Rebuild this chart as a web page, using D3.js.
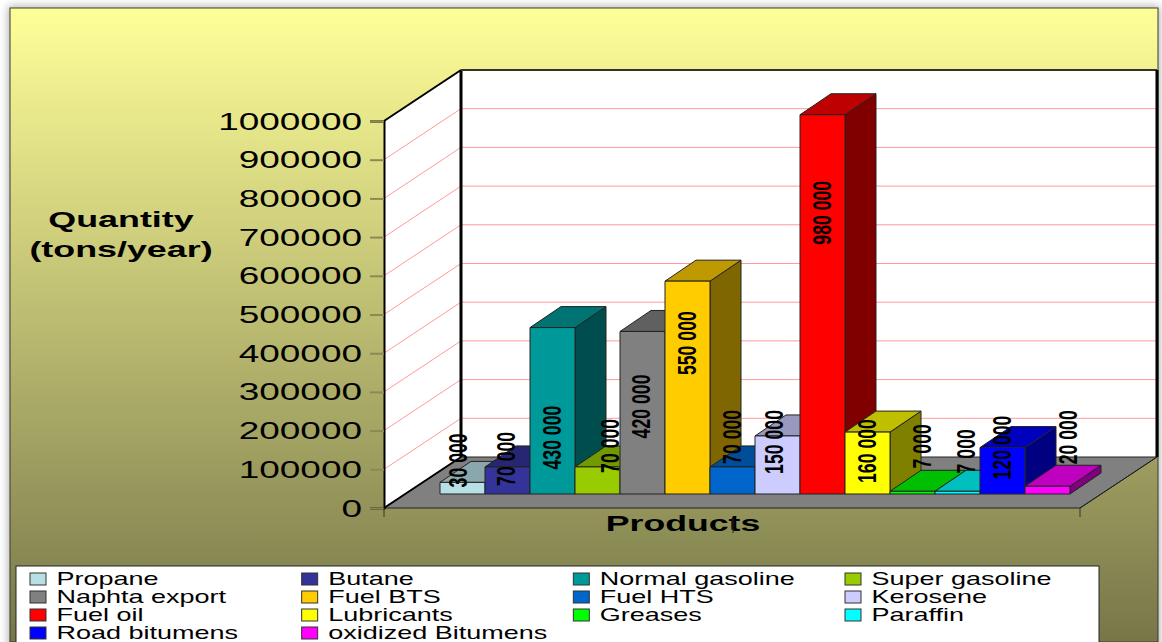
<!DOCTYPE html>
<html>
<head>
<meta charset="utf-8">
<script src="https://cdn.jsdelivr.net/npm/d3@7"></script>
<style>
  html, body { margin: 0; padding: 0; background: #fff; overflow: hidden; }
  svg { display: block; }
  text { font-family: "Liberation Sans", Arial, sans-serif; fill: #000; }
</style>
</head>
<body>
<svg id="chart" width="1162" height="642"></svg>
<script>
// Annual production by product, tons/year
const products = ["Propane", "Butane", "Normal gasoline", "Super gasoline", "Naphta export", "Fuel BTS", "Fuel HTS",
  "Kerosene", "Fuel oil", "Lubricants", "Greases", "Paraffin", "Road bitumens", "oxidized Bitumens"];
const quantities = [30000, 70000, 430000, 70000, 420000, 550000, 70000, 150000, 980000, 160000, 7000, 7000, 120000, 20000];
const productColors = ["#b8e0e4", "#333399", "#009999", "#99cc00", "#808080", "#ffcc00", "#0066cc",
  "#ccccff", "#ff0000", "#ffff00", "#00ff00", "#00ffff", "#0000ff", "#ff00ff"];
const yTicks = [0, 100000, 200000, 300000, 400000, 500000, 600000, 700000, 800000, 900000, 1000000];
const legendColumns = 4;

// Hand-placed value labels: shift from the centre of each bar's front face top
const labelShiftX = [-4, -1, 0, 13, -1, 0, 0, -3, 0, 0, 10, 9, 0, 21];
const labelShiftY = [-22, -8, 110, -21, 75, 62, -30, 6, 98, 19, -45, -40, 0, -49];

const svg = d3.select("#chart");
const defs = svg.append("defs");

const panelGrad = defs.append("linearGradient").attr("id", "panelGrad").attr("x2", 0).attr("y2", 1);
panelGrad.append("stop").attr("offset", 0).attr("stop-color", "#ffff99");
panelGrad.append("stop").attr("offset", 1).attr("stop-color", "#767649");

const blur = defs.append("filter").attr("id", "soft").attr("x", "-5%").attr("y", "-5%").attr("width", "110%").attr("height", "110%");
blur.append("feGaussianBlur").attr("stdDeviation", 4);

// Oblique projection of the 3D box
const frontLeft = 384, frontRight = 1080, floorY = 508, topY = 121;
const depthX = 77, depthY = -51;
const barDepthX = 31, barDepthY = -21, barLift = 14;

const y = d3.scaleLinear().domain([0, 1000000]).range([floorY, topY]);
const x = d3.scaleBand().domain(products).range([440, 1070]).paddingInner(0);
const line = d3.line();
const poly = pts => line(pts) + "Z";
const scaleColor = (c, k) => { const r = d3.rgb(c); return d3.rgb(r.r * k, r.g * k, r.b * k).formatHex(); };

// Panel with its soft drop shadow
svg.append("rect").attr("x", 8).attr("y", 6).attr("width", 1152).attr("height", 660)
  .attr("fill", "#b4b4b4").attr("filter", "url(#soft)");
svg.append("rect").attr("x", 10).attr("y", 8).attr("width", 1148).attr("height", 634)
  .attr("fill", "url(#panelGrad)").attr("stroke", "#3c3c30").attr("stroke-width", 1);

// Walls and floor
const plot = svg.append("g");
plot.append("path")
  .attr("d", poly([[frontLeft, y(0)], [frontLeft, y(1000000)], [frontLeft + depthX, y(1000000) + depthY], [frontLeft + depthX, y(0) + depthY]]))
  .attr("fill", "#fff");
plot.append("path")
  .attr("d", poly([[frontLeft + depthX, y(1000000) + depthY], [frontRight + depthX, y(1000000) + depthY], [frontRight + depthX, y(0) + depthY], [frontLeft + depthX, y(0) + depthY]]))
  .attr("fill", "#fff");

// Gridlines along the side and back walls
const grid = plot.append("g").attr("stroke", "#ff9a9a").attr("stroke-width", 1).attr("fill", "none");
grid.selectAll("path").data(yTicks.filter(t => t > 0 && t < 1000000)).join("path")
  .attr("d", t => line([[frontLeft, y(t)], [frontLeft + depthX, y(t) + depthY], [frontRight + depthX, y(t) + depthY]]));

plot.append("path")
  .attr("d", poly([[frontLeft, y(0)], [frontLeft + depthX, y(0) + depthY], [frontRight + depthX, y(0) + depthY], [frontRight, y(0)]]))
  .attr("fill", "#808080").attr("stroke", "#222").attr("stroke-width", 1);

// Wall outlines
const edges = plot.append("g").attr("fill", "none").attr("stroke", "#000");
edges.append("path").attr("stroke-width", 2)
  .attr("d", line([[frontLeft, y(0)], [frontLeft + depthX, y(0) + depthY]]));
edges.append("path").attr("stroke-width", 2)
  .attr("d", line([[frontLeft, y(1000000)], [frontLeft + depthX, y(1000000) + depthY]]));
edges.append("path").attr("stroke-width", 3)
  .attr("d", line([[frontLeft + depthX, y(0) + depthY], [frontLeft + depthX, y(1000000) + depthY]]));
edges.append("path").attr("stroke-width", 2).attr("stroke", "#333")
  .attr("d", line([[frontLeft + depthX, y(1000000) + depthY], [frontRight + depthX, y(1000000) + depthY]]));
edges.append("path").attr("stroke-width", 3)
  .attr("d", line([[frontRight + depthX, y(1000000) + depthY], [frontRight + depthX, y(0) + depthY]]));
edges.append("path").attr("stroke-width", 1).attr("stroke", "#222")
  .attr("d", line([[frontRight, y(0)], [frontRight + depthX, y(0) + depthY]]));

// Value axis
const axis = d3.axisLeft(y).tickValues(yTicks).tickSize(14).tickPadding(8).tickFormat(d3.format("d"));
const axisG = svg.append("g").attr("transform", `translate(${frontLeft},0)`).call(axis);
axisG.select(".domain").attr("stroke", "#000").attr("stroke-width", 2);
axisG.selectAll(".tick line").attr("stroke", "#8a8a55").attr("stroke-width", 2);
axisG.selectAll(".tick text")
  .attr("x", 0).attr("dy", null).attr("dominant-baseline", "central")
  .attr("text-anchor", "end")
  .attr("font-size", 24)
  .attr("transform", "translate(-22,0) scale(1.54,1)");

// Floor ticks along the category edge
svg.append("g").attr("stroke", "#333").attr("stroke-width", 1)
  .selectAll("line").data([frontLeft, frontRight]).join("line")
  .attr("x1", d => d).attr("x2", d => d).attr("y1", floorY).attr("y2", floorY + 9);

// Bars, drawn left to right so nearer faces cover farther ones
const bars = svg.append("g").attr("stroke", "#222").attr("stroke-width", 1).attr("stroke-linejoin", "round");
products.forEach((name, i) => {
  const x0 = x(name), x1 = x0 + x.bandwidth();
  const base = y(0) - barLift;
  const top = base - (y(0) - y(quantities[i]));
  const g = bars.append("g");
  g.append("path").attr("fill", scaleColor(productColors[i], 0.5))
    .attr("d", poly([[x1, base], [x1, top], [x1 + barDepthX, top + barDepthY], [x1 + barDepthX, base + barDepthY]]));
  g.append("path").attr("fill", scaleColor(productColors[i], 0.75))
    .attr("d", poly([[x0, top], [x0 + barDepthX, top + barDepthY], [x1 + barDepthX, top + barDepthY], [x1, top]]));
  g.append("rect").attr("x", x0).attr("y", top).attr("width", x.bandwidth()).attr("height", base - top)
    .attr("fill", productColors[i]);
});

// Rotated value labels, grouped with a space every three digits
const spaced = d3.formatLocale({ decimal: ".", thousands: " ", grouping: [3], currency: ["", ""] }).format(",d");
svg.append("g").selectAll("text").data(products).join("text")
  .attr("transform", (d, i) => {
    const cx = x(d) + x.bandwidth() / 2 + labelShiftX[i];
    const cy = y(quantities[i]) - barLift + labelShiftY[i];
    return `translate(${cx},${cy}) rotate(-90) scale(0.68,1)`;
  })
  .attr("text-anchor", "middle").attr("dominant-baseline", "central")
  .attr("font-size", 26).attr("font-weight", "bold")
  .text((d, i) => spaced(quantities[i]));

// Axis titles
const stretched = (px, py, sx, size, weight, str) => svg.append("text")
  .attr("transform", `translate(${px},${py}) scale(${sx},1)`)
  .attr("text-anchor", "middle").attr("font-size", size).attr("font-weight", weight).text(str);
stretched(121, 227, 1.63, 22, "bold", "Quantity");
stretched(121, 257, 1.63, 22, "bold", "(tons/year)");
stretched(683, 531, 1.62, 22, "bold", "Products");
svg.append("line").attr("x1", 733).attr("x2", 733).attr("y1", 518).attr("y2", 533).attr("stroke", "#222");

// Legend box, running off the bottom of the panel
const legend = svg.append("g");
legend.append("rect").attr("x", 16).attr("y", 566).attr("width", 1083).attr("height", 90)
  .attr("fill", "#fff").attr("stroke", "#222");
const colX = d3.scalePoint().domain(d3.range(legendColumns)).range([30, 845]);
const rowY = d3.scaleLinear().domain([0, 3]).range([579, 633]);
const items = legend.selectAll("g").data(products).join("g")
  .attr("transform", (d, i) => `translate(${colX(i % legendColumns)},${rowY(Math.floor(i / legendColumns))})`);
items.append("rect").attr("x", 0).attr("y", -6).attr("width", 16).attr("height", 12)
  .attr("fill", (d, i) => productColors[i]).attr("stroke", "#333");
items.append("text")
  .attr("transform", "translate(26.5,6) scale(1.5,1)")
  .attr("font-size", 18).text(d => d);
</script>
</body>
</html>
